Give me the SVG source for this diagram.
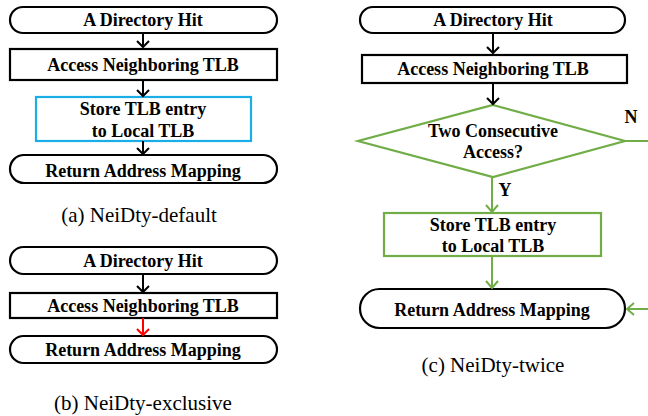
<svg xmlns="http://www.w3.org/2000/svg" width="648" height="416" viewBox="0 0 648 416">
<defs>
<style>
text{font-family:'Liberation Serif','Times New Roman',serif}
.t{font-weight:bold;font-size:18px;fill:#000;text-anchor:middle}
.c{font-size:21px;fill:#000;text-anchor:middle}
.bk{fill:#fff;stroke:#000;stroke-width:2.2}
.gr{fill:#fff;stroke:#70AD47;stroke-width:2.2}
.cy{fill:#fff;stroke:#1AAEE6;stroke-width:2.2}
.lk{fill:none;stroke:#000;stroke-width:2}
.lg{fill:none;stroke:#70AD47;stroke-width:2}
.lr{fill:none;stroke:#FF0000;stroke-width:2}
</style>
</defs>
<rect width="648" height="416" fill="#fff"/>
<!-- panel a -->
<g id="a-hit"><rect class="bk" x="10" y="7" width="267" height="26" rx="13"/><text class="t" x="143" y="26">A Directory Hit</text></g>
<g id="a-access"><rect class="bk" x="10" y="49" width="267" height="31"/><text class="t" x="143" y="71">Access Neighboring TLB</text></g>
<g id="a-store"><rect class="cy" x="36" y="97" width="215" height="44"/><text class="t" x="143" y="115">Store TLB entry</text><text class="t" x="143" y="137">to Local TLB</text></g>
<g id="a-return"><rect class="bk" x="10" y="155" width="267" height="28" rx="14"/><text class="t" x="143" y="177">Return Address Mapping</text></g>
<text class="c" x="139" y="222">(a) NeiDty-default</text>
<!-- panel b -->
<g id="b-hit"><rect class="bk" x="10" y="247" width="267" height="27" rx="13.5"/><text class="t" x="143" y="267">A Directory Hit</text></g>
<g id="b-access"><rect class="bk" x="10" y="293" width="267" height="25"/><text class="t" x="143" y="312">Access Neighboring TLB</text></g>
<g id="b-return"><rect class="bk" x="10" y="336" width="267" height="27" rx="13.5"/><text class="t" x="143" y="356">Return Address Mapping</text></g>
<text class="c" x="143" y="410">(b) NeiDty-exclusive</text>
<!-- panel c -->
<g id="c-hit"><rect class="bk" x="360" y="7" width="265" height="26" rx="13"/><text class="t" x="493" y="26">A Directory Hit</text></g>
<g id="c-access"><rect class="bk" x="362" y="55" width="265" height="28"/><text class="t" x="493" y="75">Access Neighboring TLB</text></g>
<g id="c-decision"><polygon class="gr" points="493,105 625,141 493,177 358,141"/><text class="t" x="493" y="137">Two Consecutive</text><text class="t" x="493" y="158">Access?</text></g>
<g id="c-store"><rect class="gr" x="384" y="213" width="217" height="43"/><text class="t" x="493" y="231">Store TLB entry</text><text class="t" x="493" y="252">to Local TLB</text></g>
<g id="c-return"><rect class="bk" x="360" y="289" width="265" height="39" rx="19.5"/><text class="t" x="492" y="316">Return Address Mapping</text></g>
<text class="c" x="493" y="372">(c) NeiDty-twice</text>
<g id="connectors">
<path class="lk" d="M143 33V47M137 41l6 6 6-6"/>
<path class="lk" d="M143 80V96M137 90l6 6 6-6"/>
<path class="lk" d="M143 141V154M137 148l6 6 6-6"/>
<path class="lk" d="M143 274V292M137 286l6 6 6-6"/>
<path class="lr" d="M143 318V335M137 329l6 6 6-6"/>
<path class="lk" d="M493 33V53M487 47l6 6 6-6"/>
<path class="lk" d="M493 83V104M487 98l6 6 6-6"/>
<path class="lg" d="M492 177V212M486 205l6 7 6-7"/>
<path class="lg" d="M492 256V288M486 281l6 7 6-7"/>
<path class="lg" d="M625 141H648"/>
<path class="lg" d="M648 309H627M634 303l-7 6 7 6"/>
<text class="t" x="631" y="123">N</text>
<text class="t" x="505" y="196">Y</text>
</g>
</svg>
